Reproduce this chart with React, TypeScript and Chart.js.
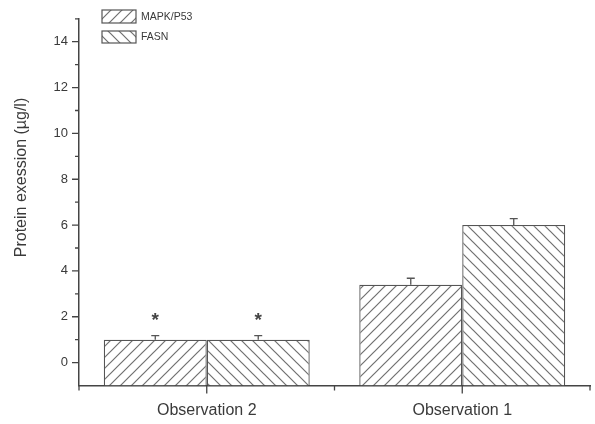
import React, { useEffect, useRef } from "react";
import { Chart, registerables } from "chart.js";

Chart.register(...registerables);

const categories = ["Observation 2", "Observation 1"];
const seriesNames = ["MAPK/P53", "FASN"];
const mapkValues = [1.0, 3.4];
const mapkErrors = [0.18, 0.28];
const fasnValues = [1.0, 6.0];
const fasnErrors = [0.18, 0.28];
const mapkMarks = ["*", ""];
const fasnMarks = ["*", ""];
const yMajorTicks = [0, 2, 4, 6, 8, 10, 12, 14];
const yMinorTicks = [1, 3, 5, 7, 9, 11, 13, 15];
const yMin = -1;
const yMax = 15;
const yTitle = "Protein exession (\u00b5g/l)";

const FONT = "'Liberation Sans', Arial, sans-serif";
const AXIS = "#444";
const TEXT = "#3a3a3a";

function makeHatch(forward: boolean): CanvasPattern | string {
  const s = 11;
  const c = document.createElement("canvas");
  c.width = s;
  c.height = s;
  const g = c.getContext("2d");
  if (!g) return "#fff";
  g.fillStyle = "#fff";
  g.fillRect(0, 0, s, s);
  g.strokeStyle = "#707070";
  g.lineWidth = 1.2;
  g.beginPath();
  if (forward) {
    g.moveTo(0, s);
    g.lineTo(s, 0);
    g.moveTo(-2, 2);
    g.lineTo(2, -2);
    g.moveTo(s - 2, s + 2);
    g.lineTo(s + 2, s - 2);
  } else {
    g.moveTo(0, 0);
    g.lineTo(s, s);
    g.moveTo(-2, s - 2);
    g.lineTo(2, s + 2);
    g.moveTo(s - 2, -2);
    g.lineTo(s + 2, 2);
  }
  g.stroke();
  const p = g.createPattern(c, "repeat");
  return p || "#fff";
}

export default function App() {
  const ref = useRef<HTMLCanvasElement | null>(null);

  useEffect(() => {
    document.body.style.margin = "0";
    const canvas = ref.current;
    if (!canvas) return;
    const fwd = makeHatch(true);
    const back = makeHatch(false);
    const errors = [mapkErrors, fasnErrors];
    const marks = [mapkMarks, fasnMarks];
    const patterns = [fwd, back];

    const overlay = {
      id: "overlay",
      afterDatasetsDraw(chart: any) {
        const ctx = chart.ctx as CanvasRenderingContext2D;
        const ys = chart.scales.y;
        const xs = chart.scales.x;
        const area = chart.chartArea;
        ctx.save();
        // error bars & significance marks
        chart.data.datasets.forEach((ds: any, i: number) => {
          const meta = chart.getDatasetMeta(i);
          meta.data.forEach((bar: any, j: number) => {
            const v = ds.data[j] as number;
            const top = ys.getPixelForValue(v + errors[i][j]);
            ctx.strokeStyle = "#555";
            ctx.lineWidth = 1.3;
            ctx.beginPath();
            ctx.moveTo(bar.x, bar.y);
            ctx.lineTo(bar.x, top);
            ctx.moveTo(bar.x - 4, top);
            ctx.lineTo(bar.x + 4, top);
            ctx.stroke();
            if (marks[i][j]) {
              ctx.fillStyle = "#444";
              ctx.font = `bold 19px ${FONT}`;
              ctx.textAlign = "center";
              ctx.textBaseline = "middle";
              ctx.fillText(marks[i][j], bar.x, top - 15);
            }
          });
        });
        // y ticks
        ctx.strokeStyle = AXIS;
        ctx.lineWidth = 1.3;
        ctx.beginPath();
        yMajorTicks.forEach((t) => {
          const y = ys.getPixelForValue(t);
          ctx.moveTo(area.left - 7, y);
          ctx.lineTo(area.left, y);
        });
        yMinorTicks.forEach((t) => {
          const y = ys.getPixelForValue(t);
          ctx.moveTo(area.left - 4, y);
          ctx.lineTo(area.left, y);
        });
        // x ticks
        const n = categories.length;
        const cw = (area.right - area.left) / n;
        categories.forEach((_, k) => {
          const x = xs.getPixelForValue(k);
          ctx.moveTo(x, area.bottom);
          ctx.lineTo(x, area.bottom + 8);
        });
        for (let k = 0; k <= n; k++) {
          const x = area.left + k * cw;
          ctx.moveTo(x, area.bottom);
          ctx.lineTo(x, area.bottom + 5);
        }
        ctx.stroke();
        // legend
        const lx = 102;
        const boxes = [
          { y: 10, h: 13 },
          { y: 31, h: 12 },
        ];
        chart.data.datasets.forEach((ds: any, i: number) => {
          const b = boxes[i];
          ctx.fillStyle = patterns[i] as any;
          ctx.fillRect(lx, b.y, 34, b.h);
          ctx.strokeStyle = "#555";
          ctx.lineWidth = 1.2;
          ctx.strokeRect(lx, b.y, 34, b.h);
          ctx.fillStyle = TEXT;
          ctx.font = `10.5px ${FONT}`;
          ctx.textAlign = "left";
          ctx.textBaseline = "middle";
          ctx.fillText(ds.label, lx + 39, b.y + b.h / 2 + 0.5);
        });
        // y title
        ctx.save();
        ctx.translate(22, 177.5);
        ctx.rotate(-Math.PI / 2);
        ctx.fillStyle = TEXT;
        ctx.font = `16px ${FONT}`;
        ctx.textAlign = "center";
        ctx.textBaseline = "middle";
        ctx.fillText(yTitle, 0, 0);
        ctx.restore();
        ctx.restore();
      },
    };

    const chart = new Chart(canvas, {
      type: "bar",
      data: {
        labels: categories,
        datasets: [
          {
            label: seriesNames[0],
            data: mapkValues,
            backgroundColor: fwd as any,
            borderColor: "#555",
            borderWidth: 1.3,
            base: yMin,
          } as any,
          {
            label: seriesNames[1],
            data: fasnValues,
            backgroundColor: back as any,
            borderColor: "#555",
            borderWidth: 1.3,
            base: yMin,
          } as any,
        ],
      },
      options: {
        responsive: false,
        animation: false,
        devicePixelRatio: 1,
        layout: { padding: { top: 9.5, right: 5, left: 0, bottom: 0 } },
        categoryPercentage: 0.806,
        barPercentage: 1.0,
        plugins: {
          legend: { display: false },
          tooltip: { enabled: false },
        },
        scales: {
          x: {
            offset: true,
            grid: { display: false, drawTicks: false },
            border: { display: true, color: AXIS, width: 1.5 },
            ticks: {
              padding: 15,
              color: TEXT,
              font: { family: FONT, size: 16 },
            },
            afterFit: (s: any) => {
              s.height = 38.5;
            },
          },
          y: {
            min: yMin,
            max: yMax,
            grid: { display: false, drawTicks: false },
            border: { display: true, color: AXIS, width: 1.5 },
            ticks: {
              padding: 11,
              color: TEXT,
              font: { family: FONT, size: 13 },
            },
            afterBuildTicks: (s: any) => {
              s.ticks = yMajorTicks.map((v) => ({ value: v }));
            },
            afterFit: (s: any) => {
              s.width = 79;
            },
          },
        },
      } as any,
      plugins: [overlay],
    });
    return () => chart.destroy();
  }, []);

  return (
    <div style={{ width: 595, height: 424, background: "#fff" }}>
      <canvas ref={ref} width={595} height={424} />
    </div>
  );
}
